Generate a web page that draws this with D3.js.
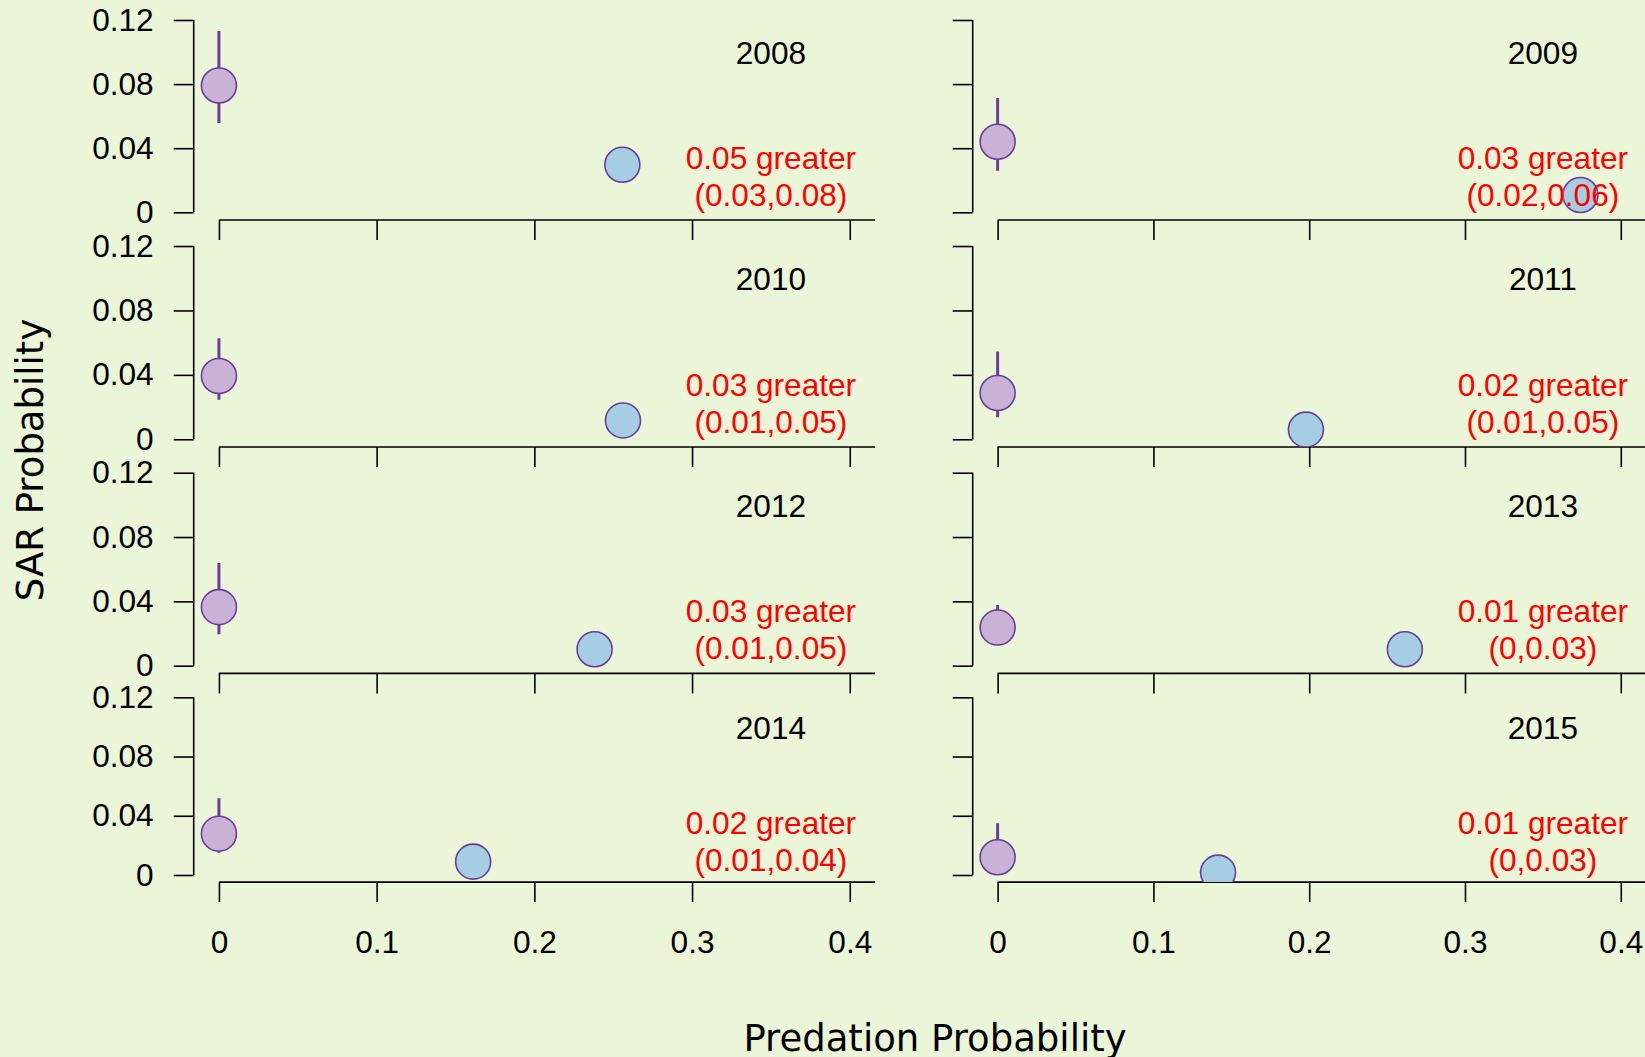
<!DOCTYPE html>
<html>
<head>
<meta charset="utf-8">
<script src="https://cdn.jsdelivr.net/npm/d3@7"></script>
<style>
  html, body { margin: 0; padding: 0; background: #ebf5d7; }
  svg { display: block; }
</style>
</head>
<body>
<script>
// Panel data, one entry per year
const years = [2008, 2009, 2010, 2011, 2012, 2013, 2014, 2015];
// purple: no-predation group (x = 0)
const sarNoPred = [0.0791, 0.0440, 0.0393, 0.0287, 0.0364, 0.0237, 0.0279, 0.0120];
const sarNoPredLow = [0.0558, 0.0259, 0.0245, 0.0137, 0.0196, 0.0150, 0.0150, 0.0060];
const sarNoPredHigh = [0.1131, 0.0714, 0.0627, 0.0545, 0.0638, 0.0378, 0.0518, 0.0349];
// blue: predation group
const predProb = [0.2558, 0.3741, 0.2562, 0.1979, 0.2382, 0.2614, 0.1612, 0.1415];
const sarPred = [0.0297, 0.0108, 0.0117, 0.0060, 0.0102, 0.0102, 0.0090, 0.0016];
const diffText = ['0.05 greater', '0.03 greater', '0.03 greater', '0.02 greater',
                  '0.03 greater', '0.01 greater', '0.02 greater', '0.01 greater'];
const ciText = ['(0.03,0.08)', '(0.02,0.06)', '(0.01,0.05)', '(0.01,0.05)',
                '(0.01,0.05)', '(0,0.03)', '(0.01,0.04)', '(0,0.03)'];
const xTicks = [0, 0.1, 0.2, 0.3, 0.4];
const yTicks = [0, 0.04, 0.08, 0.12];

const width = 1645;
const height = 1057;

// plot regions (columns, rows) -- last row is a bit shorter
const cols = [{x0: 193.7, x1: 875}, {x0: 972.7, x1: 1645.7}];
const rows = [{top: 12.3, bottom: 220}, {top: 238.3, bottom: 447},
              {top: 465, bottom: 673.4}, {top: 690.2, bottom: 882.1}];

const purple = '#6a3d9a';
const tickFont = '"Liberation Sans", Arial, sans-serif';
const titleFont = '"DejaVu Sans", Verdana, sans-serif';
const fs = 31.6;

const svg = d3.select('body')
    .append('svg')
    .attr('width', width)
    .attr('height', height)
    .attr('viewBox', [0, 0, width, height]);

svg.append('rect')
    .attr('width', width)
    .attr('height', height)
    .attr('fill', '#ebf5d7');

years.forEach((year, i) => {
  const col = cols[i % 2];
  const row = rows[Math.floor(i / 2)];
  const isLeft = i % 2 === 0;
  const isBottom = Math.floor(i / 2) === rows.length - 1;

  const x = d3.scaleLinear().domain([-0.016, 0.416]).range([col.x0, col.x1]);
  const y = d3.scaleLinear().domain([-0.0048, 0.1248]).range([row.bottom, row.top]);

  const g = svg.append('g');

  // y axis: ticks only, line from 0 to 0.12
  const yAxis = g.append('g')
      .attr('transform', `translate(${col.x0},0)`)
      .call(d3.axisLeft(y)
          .tickValues(yTicks)
          .tickSize(20)
          .tickPadding(20)
          .tickFormat(d => isLeft ? (d === 0 ? '0' : d.toFixed(2)) : ''));
  yAxis.select('.domain').remove();
  yAxis.append('line')
      .attr('y1', y(0))
      .attr('y2', y(0.12))
      .attr('stroke', 'black');

  // x axis along the bottom of the plot region
  const xAxis = g.append('g')
      .attr('transform', `translate(0,${row.bottom})`)
      .call(d3.axisBottom(x)
          .tickValues(xTicks)
          .tickSize(20)
          .tickPadding(28)
          .tickFormat(d => isBottom ? d3.format('~g')(d) : ''));
  xAxis.select('.domain').remove();
  xAxis.append('line')
      .attr('x1', x(0))
      .attr('x2', Math.min(x(0.416), width))
      .attr('stroke', 'black');

  g.selectAll('.tick line, line').attr('stroke', 'black').attr('stroke-width', 1.6);
  g.selectAll('.tick text')
      .attr('fill', 'black')
      .style('font-family', tickFont)
      .style('font-size', fs + 'px');

  // clip marks to the plot region
  const clipId = 'clip-' + year;
  svg.append('clipPath')
      .attr('id', clipId)
      .append('rect')
      .attr('x', col.x0)
      .attr('y', row.top)
      .attr('width', col.x1 - col.x0)
      .attr('height', row.bottom - row.top);

  const marks = g.append('g').attr('clip-path', `url(#${clipId})`);

  marks.append('line')
      .attr('x1', x(0))
      .attr('x2', x(0))
      .attr('y1', y(sarNoPredLow[i]))
      .attr('y2', y(sarNoPredHigh[i]))
      .attr('stroke', purple)
      .attr('stroke-width', 3);

  marks.append('circle')
      .attr('cx', x(0))
      .attr('cy', y(sarNoPred[i]))
      .attr('r', 17.5)
      .attr('fill', '#cab2d6')
      .attr('stroke', purple)
      .attr('stroke-width', 1.6);

  marks.append('circle')
      .attr('cx', x(predProb[i]))
      .attr('cy', y(sarPred[i]))
      .attr('r', 17.5)
      .attr('fill', '#a6cee3')
      .attr('stroke', purple)
      .attr('stroke-width', 1.6);

  // year label
  g.append('text')
      .attr('x', x(0.35))
      .attr('y', y(0.1) + 12)
      .attr('text-anchor', 'middle')
      .style('font-family', tickFont)
      .style('font-size', fs + 'px')
      .attr('fill', 'black')
      .text(year);

  // difference and interval, two lines centred on y = 0.0205
  const yc = y(0.0205) - 3;
  g.append('text')
      .attr('x', x(0.35))
      .attr('y', yc - 18.3 + 11)
      .attr('text-anchor', 'middle')
      .style('font-family', tickFont)
      .style('font-size', fs + 'px')
      .attr('fill', 'red')
      .text(diffText[i]);
  g.append('text')
      .attr('x', x(0.35))
      .attr('y', yc + 18.3 + 11)
      .attr('text-anchor', 'middle')
      .style('font-family', tickFont)
      .style('font-size', fs + 'px')
      .attr('fill', 'red')
      .text(ciText[i]);
});

// axis titles
svg.append('text')
    .attr('x', 935)
    .attr('y', 1050.7)
    .attr('text-anchor', 'middle')
    .style('font-family', titleFont)
    .style('font-size', '37px')
    .attr('fill', 'black')
    .text('Predation Probability');

svg.append('text')
    .attr('transform', 'translate(43,460) rotate(-90)')
    .attr('text-anchor', 'middle')
    .style('font-family', titleFont)
    .style('font-size', '37px')
    .attr('fill', 'black')
    .text('SAR Probability');
</script>
</body>
</html>
